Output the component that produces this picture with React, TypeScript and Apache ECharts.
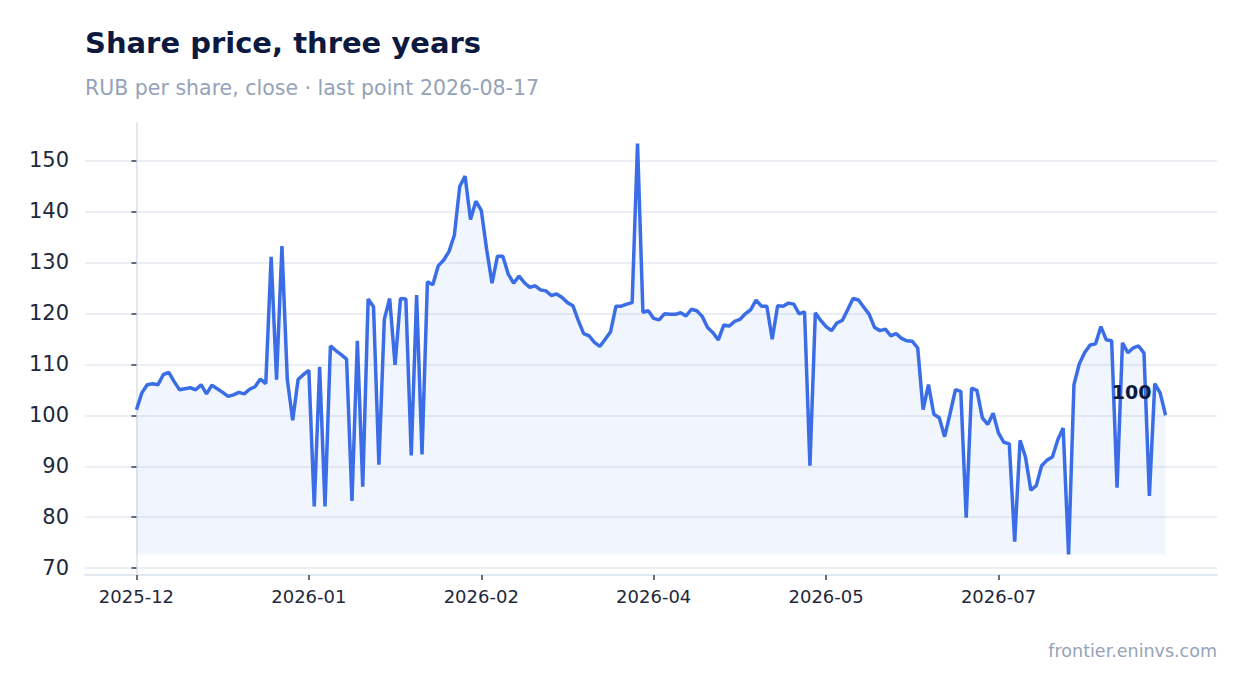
import { useEffect, useRef } from 'react';
import * as echarts from 'echarts';

// closing price per point
const prices = [
  101.1, 104.4, 106.0, 106.2, 106.0, 108.0, 108.4, 106.6, 105.0, 105.2,
  105.4, 105.0, 106.0, 104.2, 105.9, 105.2, 104.5, 103.7, 104.0, 104.5,
  104.2, 105.1, 105.6, 107.1, 106.2, 131.1, 107.0, 133.2, 107.0, 99.0,
  107.0, 108.0, 108.8, 82.1, 109.5, 82.1, 113.6, 112.7, 111.9, 111.0,
  83.2, 114.6, 86.0, 122.8, 121.3, 90.3, 118.8, 122.9, 109.9, 122.9,
  122.8, 92.1, 123.6, 92.3, 126.2, 125.6, 129.3, 130.4, 132.1, 135.3,
  144.9, 146.9, 138.4, 142.0, 140.2, 132.5, 125.9, 131.2, 131.2, 127.7,
  125.9, 127.3, 126.0, 125.1, 125.4, 124.6, 124.4, 123.5, 123.8, 123.1,
  122.1, 121.5, 118.6, 116.0, 115.6, 114.3, 113.5, 114.9, 116.4, 121.4,
  121.4, 121.8, 122.1, 153.3, 120.2, 120.5, 119.0, 118.7, 119.9, 119.8,
  119.8, 120.1, 119.5, 120.8, 120.5, 119.4, 117.2, 116.2, 114.8, 117.7,
  117.5, 118.4, 118.8, 119.9, 120.7, 122.6, 121.4, 121.4, 114.9, 121.5,
  121.4, 122.0, 121.8, 119.9, 120.3, 90.1, 120.1, 118.6, 117.4, 116.6,
  118.1, 118.6, 120.7, 122.9, 122.6, 121.2, 119.8, 117.2, 116.6, 116.9,
  115.6, 116.0, 115.1, 114.6, 114.5, 113.2, 101.1, 106.0, 100.2, 99.5,
  95.8, 100.3, 105.0, 104.7, 79.9, 105.3, 104.9, 99.5, 98.2, 100.4,
  96.5, 94.7, 94.4, 75.2, 95.1, 91.8, 85.3, 86.2, 90.1, 91.2,
  91.8, 95.2, 97.5, 72.7, 106.0, 110.1, 112.3, 113.8, 114.0, 117.4,
  114.8, 114.6, 85.8, 114.2, 112.3, 113.2, 113.6, 112.2, 84.2, 106.2,
  104.4, 100.0,
];

const tickIndex = [0, 32, 64, 96, 128, 160];
const tickLabels = ['2025-12', '2026-01', '2026-02', '2026-04', '2026-05', '2026-07'];
const yTicks = [70, 80, 90, 100, 110, 120, 130, 140, 150];
const lastLabel = '100';

const FONT = 'DejaVu Sans';

export default function App() {
  const chartRef = useRef<HTMLDivElement | null>(null);

  useEffect(() => {
    if (!chartRef.current) return;
    const chart = echarts.init(chartRef.current, undefined, { renderer: 'svg' });

    const lo = Math.min(...prices);
    const hi = Math.max(...prices);
    const yPad = (hi - lo) * 0.05;
    const last = prices.length - 1;
    const xPad = last * 0.05;

    chart.setOption({
      animation: false,
      textStyle: { fontFamily: FONT },
      title: {
        text: 'Share price, three years',
        subtext: 'RUB per share, close · last point 2026-08-17',
        left: 77,
        top: 20,
        padding: 0,
        itemGap: 20,
        textStyle: { fontSize: 29, fontWeight: 'bold', color: '#0d1a40', fontFamily: FONT },
        subtextStyle: { fontSize: 20.5, color: '#94a3b8', fontFamily: FONT },
      },
      graphic: [
        {
          type: 'text',
          right: 22,
          top: 634,
          style: { text: 'frontier.eninvs.com', font: `17.5px "${FONT}"`, fill: '#94a3b8' },
        },
      ],
      grid: { left: 77, right: 22, top: 115, bottom: 110 },
      xAxis: {
        type: 'value',
        min: -xPad,
        max: last + xPad,
        splitLine: { show: false },
        axisLine: { show: true, lineStyle: { color: '#e2e8f0', width: 2 } },
        axisTick: { show: true, customValues: tickIndex, length: 5, lineStyle: { color: '#334155', width: 1.5 } },
        axisLabel: {
          customValues: tickIndex,
          formatter: (v: number) => tickLabels[tickIndex.indexOf(Math.round(v))] ?? '',
          fontSize: 18,
          color: '#1e293b',
          margin: 12,
        },
      },
      yAxis: {
        type: 'value',
        min: lo - yPad,
        max: hi + yPad,
        axisLine: { show: true, lineStyle: { color: '#e2e8f0', width: 2 } },
        axisTick: { show: true, customValues: yTicks, length: 5, lineStyle: { color: '#334155', width: 1.5 } },
        axisLabel: { customValues: yTicks, fontSize: 21, color: '#1e293b', margin: 16 },
        splitLine: { show: true, lineStyle: { color: '#e5e9f2', width: 1.5 } },
      },
      series: [
        {
          type: 'line',
          data: prices.map((v, i) => [i, v]),
          showSymbol: false,
          lineStyle: { color: '#3b6ee6', width: 3.5 },
          areaStyle: { color: 'rgba(59,110,230,0.1)', origin: lo },
          markPoint: {
            symbol: 'circle',
            symbolSize: 1,
            itemStyle: { color: 'rgba(0,0,0,0)' },
            data: [{ coord: [last, prices[last]] }],
            label: {
              show: true,
              formatter: lastLabel,
              position: 'inside',
              offset: [-34, -23],
              fontSize: 19,
              fontWeight: 'bold',
              color: '#0d1a40',
              fontFamily: FONT,
            },
          },
        },
      ],
    });

    return () => chart.dispose();
  }, []);

  return <div ref={chartRef} style={{ width: 1231, height: 677 }} />;
}
